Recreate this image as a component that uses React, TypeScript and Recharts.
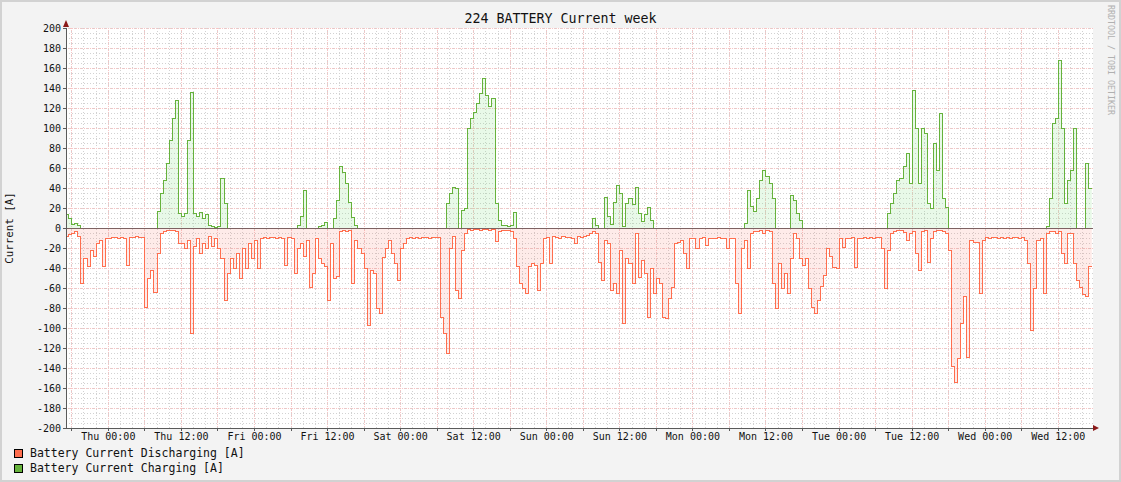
import React from "react";
import { ComposedChart, Area, XAxis, YAxis, CartesianGrid, ReferenceLine } from "recharts";

// half-hour samples, values in A (discharging negative, charging positive)
// first block starts Wed 17:00, then one block per day from 00:00
const dischargeWed1 = [-8, -6, -5, -3, -8, -55, -30, -38, -22, -28, -15, -12, -38, -10];
const chargeWed1 = [14, 10, 4, 5, 3, 0, 0, 0, 0, 0, 0, 0, 0, 0];

const dischargeThu = [
  -10, -9, -9, -10, -9, -10, -37, -9, -9, -8, -9, -9,
  -79, -50, -42, -64, -25, -5, -3, -2, -2, -2, -3, -15,
  -15, -20, -12, -105, -18, -10, -25, -15, -20, -8, -18, -10,
  -20, -30, -72, -45, -30, -40, -25, -50, -20, -40, -15, -30,
];
const chargeThu = [
  0, 0, 0, 0, 0, 0, 0, 0, 0, 0, 0, 0,
  0, 0, 0, 0, 17, 35, 48, 65, 88, 110, 128, 15,
  12, 15, 88, 136, 15, 12, 16, 10, 14, 3, 2, 1,
  2, 50, 25, 0, 0, 0, 0, 0, 0, 0, 0, 0,
];

const dischargeFri = [
  -12, -40, -10, -9, -10, -9, -9, -10, -9, -10, -37, -9,
  -10, -45, -20, -15, -28, -12, -59, -45, -10, -30, -35, -38,
  -72, -15, -50, -48, -3, -2, -3, -2, -55, -12, -20, -25,
  -40, -97, -42, -45, -80, -85, -29, -20, -12, -25, -35, -52,
];
const chargeFri = [
  0, 0, 0, 0, 0, 0, 0, 0, 0, 0, 0, 0,
  0, 0, 3, 12, 38, 0, 0, 0, 0, 2, 3, 6,
  0, 0, 10, 28, 62, 56, 45, 26, 11, 3, 0, 0,
  0, 0, 0, 0, 0, 0, 0, 0, 0, 0, 0, 0,
];

const dischargeSat = [
  -20, -15, -10, -9, -10, -9, -10, -9, -9, -10, -9, -9,
  -9, -89, -105, -125, -20, -8, -62, -70, -22, -5, -1, -2,
  -1, -1, -2, -1, -1, -2, -1, -13, -3, -2, -2, -2,
  -3, -10, -38, -55, -60, -65, -38, -35, -37, -62, -35, -10,
];
const chargeSat = [
  0, 0, 0, 0, 0, 0, 0, 0, 0, 0, 0, 0,
  0, 0, 0, 25, 35, 41, 40, 0, 18, 20, 100, 110,
  116, 125, 135, 150, 133, 122, 130, 25, 8, 3, 3, 2,
  3, 16, 0, 0, 0, 0, 0, 0, 0, 0, 0, 0,
];

const dischargeSun = [
  -9, -35, -8, -9, -10, -8, -9, -9, -10, -15, -8, -9,
  -8, -7, -5, -3, -5, -34, -52, -12, -15, -62, -55, -65,
  -22, -95, -30, -35, -55, -5, -49, -32, -45, -89, -40, -65,
  -50, -55, -89, -90, -70, -59, -15, -14, -12, -25, -40, -10,
];
const chargeSun = [
  0, 0, 0, 0, 0, 0, 0, 0, 0, 0, 0, 0,
  0, 0, 0, 10, 3, 0, 0, 31, 12, 4, 26, 43,
  35, 2, 25, 30, 24, 41, 15, 7, 14, 21, 8, 0,
  0, 0, 0, 0, 0, 0, 0, 0, 0, 0, 0, 0,
];

const dischargeMon = [
  -10, -20, -10, -9, -17, -10, -10, -10, -9, -10, -10, -20,
  -10, -10, -55, -85, -20, -12, -40, -5, -3, -3, -2, -5,
  -2, -3, -55, -80, -35, -60, -45, -65, -30, -5, -10, -30,
  -37, -30, -60, -79, -85, -72, -58, -47, -20, -28, -39, -40,
];
const chargeMon = [
  0, 0, 0, 0, 0, 0, 0, 0, 0, 0, 0, 0,
  0, 0, 0, 0, 0, 5, 38, 22, 17, 30, 48, 58,
  52, 45, 30, 0, 0, 0, 0, 0, 33, 28, 15, 8,
  0, 0, 0, 0, 0, 0, 0, 0, 0, 0, 0, 0,
];

const dischargeTue = [
  -10, -19, -10, -10, -9, -39, -10, -10, -9, -10, -9, -10,
  -9, -9, -20, -60, -22, -5, -3, -2, -2, -4, -12, -5,
  -3, -25, -42, -3, -2, -34, -10, -3, -2, -2, -3, -5,
  -22, -138, -154, -130, -95, -68, -129, -12, -14, -14, -65, -12,
];
const chargeTue = [
  0, 0, 0, 0, 0, 0, 0, 0, 0, 0, 0, 0,
  0, 0, 0, 0, 15, 25, 35, 48, 50, 62, 75, 45,
  138, 100, 45, 100, 95, 25, 20, 85, 58, 115, 30, 21,
  0, 0, 0, 0, 0, 0, 0, 0, 0, 0, 0, 0,
];

const dischargeWed2 = [
  -9, -10, -9, -9, -10, -9, -10, -9, -10, -9, -9, -10,
  -9, -12, -35, -102, -60, -12, -10, -65, -5, -3, -3, -5,
  -3, -25, -35, -5, -5, -35, -52, -59, -66, -68, -38,
];
const chargeWed2 = [
  0, 0, 0, 0, 0, 0, 0, 0, 0, 0, 0, 0,
  0, 0, 0, 0, 0, 0, 0, 0, 2, 30, 105, 110,
  168, 100, 25, 48, 58, 100, 0, 0, 0, 65, 40,
];

// hours relative to Thu 00:00
const blockStarts = [-7, 0, 24, 48, 72, 96, 120, 144];
const dischargeBlocks = [dischargeWed1, dischargeThu, dischargeFri, dischargeSat, dischargeSun, dischargeMon, dischargeTue, dischargeWed2];
const chargeBlocks = [chargeWed1, chargeThu, chargeFri, chargeSat, chargeSun, chargeMon, chargeTue, chargeWed2];

const dayNames = ["Thu", "Fri", "Sat", "Sun", "Mon", "Tue", "Wed"];
const xTicks = [-6, 0, 6, 12, 18, 24, 30, 36, 42, 48, 54, 60, 66, 72, 78, 84, 90, 96, 102, 108, 114, 120, 126, 132, 138, 144, 150, 156];
const yTicks = [-200, -180, -160, -140, -120, -100, -80, -60, -40, -20, 0, 20, 40, 60, 80, 100, 120, 140, 160, 180, 200];

const data: { t: number; dis: number; chg: number }[] = [];
blockStarts.forEach((start, b) => {
  dischargeBlocks[b].forEach((v, i) => {
    data.push({ t: start + i * 0.5, dis: v, chg: chargeBlocks[b][i] });
  });
});
// close the last step
const last = data[data.length - 1];
data.push({ t: last.t + 0.5, dis: last.dis, chg: last.chg });

const minorY: number[] = [];
for (let v = -200; v <= 200; v += 5) minorY.push(v);
const minorX: number[] = [];
for (let h = -6; h <= 160; h += 2) minorX.push(h);

const RED = "#ff6e4e";
const GREEN = "#66b23c";
const FONT = "'DejaVu Sans Mono', monospace";

const fmtTick = (h: number) => {
  if (h % 12 !== 0 || h < 0) return "";
  const day = dayNames[Math.floor(h / 24)];
  return `${day} ${h % 24 === 0 ? "00" : "12"}:00`;
};

export default function App() {
  return (
    <div style={{ position: "absolute", left: 0, top: 0, width: 1121, height: 482, background: "#f3f3f3", fontFamily: FONT }}>
      <style>{`.recharts-area-curve, .recharts-reference-line-line, .recharts-cartesian-axis-line, .recharts-cartesian-axis-tick-line, .recharts-cartesian-grid line { shape-rendering: crispEdges; }`}</style>
      <ComposedChart width={1121} height={482} data={data} margin={{ top: 28, right: 28, bottom: 0, left: 0 }}>
        <CartesianGrid
          fill="#ffffff"
          stroke="#d2d2d2"
          strokeDasharray="1 2"
          horizontalValues={minorY}
          verticalValues={minorX}
        />
        <CartesianGrid
          stroke="#f8c4c4"
          strokeDasharray="1 1"
          horizontalValues={yTicks}
          verticalValues={xTicks}
        />
        <XAxis
          type="number"
          dataKey="t"
          domain={[-6.95, 161.7]}
          allowDataOverflow
          ticks={xTicks}
          interval={0}
          tickFormatter={fmtTick}
          height={54}
          tickSize={3}
          axisLine={{ stroke: "#5a5a5a" }}
          tickLine={{ stroke: "#5a5a5a" }}
          tick={{ fontSize: 10, fill: "#111", fontFamily: FONT }}
        />
        <YAxis
          type="number"
          domain={[-200, 200]}
          ticks={yTicks}
          interval={0}
          width={66}
          tickSize={3}
          axisLine={{ stroke: "#5a5a5a" }}
          tickLine={{ stroke: "#5a5a5a" }}
          tick={{ fontSize: 10, fill: "#111", fontFamily: FONT }}
        />
        <Area
          type="stepAfter"
          dataKey="dis"
          stroke={RED}
          strokeWidth={1}
          fill="#f87060"
          fillOpacity={0.14}
          dot={false}
          activeDot={false}
          isAnimationActive={false}
        />
        <Area
          type="stepAfter"
          dataKey="chg"
          stroke={GREEN}
          strokeWidth={1}
          fill="#7ee07e"
          fillOpacity={0.18}
          dot={false}
          activeDot={false}
          isAnimationActive={false}
        />
        <ReferenceLine y={0} stroke="#7d6262" strokeWidth={1} />
      </ComposedChart>

      {/* axis arrows */}
      <svg style={{ position: "absolute", left: 0, top: 0, pointerEvents: "none" }} width={1121} height={482}>
        <polygon points="63,27 69,27 66,20" fill="#8b1a1a" />
        <polygon points="1093,425 1093,431 1099,428" fill="#8b1a1a" />
      </svg>

      <div style={{ position: "absolute", left: 0, width: 1121, top: 10, textAlign: "center", fontSize: 13.3, lineHeight: "18px", color: "#111" }}>
        224 BATTERY Current week
      </div>
      <div
        style={{
          position: "absolute",
          left: 9,
          top: 228,
          transform: "translate(-50%, -50%) rotate(-90deg)",
          fontSize: 10.8,
          whiteSpace: "nowrap",
          color: "#111",
        }}
      >
        Current [A]
      </div>
      <div
        style={{
          position: "absolute",
          left: 1106,
          top: 5,
          writingMode: "vertical-rl",
          fontSize: 8.3,
          color: "#b0b0b0",
          whiteSpace: "nowrap",
        }}
      >
        RRDTOOL / TOBI OETIKER
      </div>

      {/* legend */}
      {[
        { label: "Battery Current Discharging [A]", color: RED, top: 446 },
        { label: "Battery Current Charging [A]", color: GREEN, top: 461 },
      ].map((l) => (
        <div key={l.label} style={{ position: "absolute", left: 14, top: l.top, height: 14, display: "flex", alignItems: "center" }}>
          <span style={{ width: 9, height: 9, boxSizing: "border-box", border: "1px solid #000", background: l.color, marginRight: 7 }} />
          <span style={{ fontSize: 11.5, color: "#111", whiteSpace: "nowrap" }}>{l.label}</span>
        </div>
      ))}

      <div style={{ position: "absolute", inset: 0, border: "2px solid #d2d2d2", pointerEvents: "none" }} />
    </div>
  );
}
